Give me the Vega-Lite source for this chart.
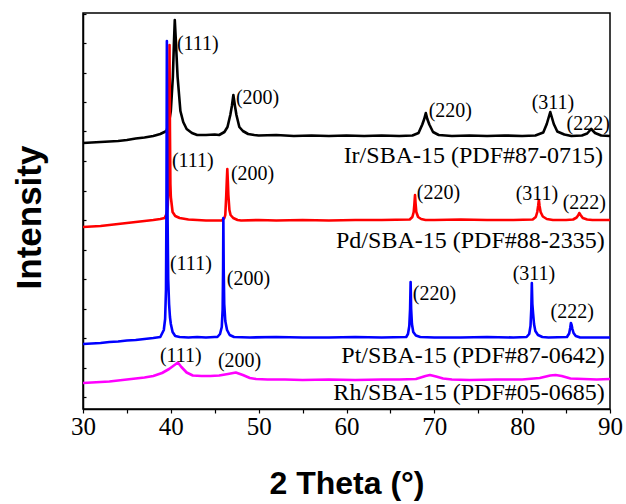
{
  "$schema": "https://vega.github.io/schema/vega-lite/v6.json",
  "width": 527,
  "height": 396,
  "autosize": {"type": "none"},
  "padding": {"left": 83, "top": 13, "right": 16, "bottom": 95},
  "background": "white",
  "config": {
    "view": {"stroke": "black", "strokeWidth": 1.5},
    "axis": {"grid": false, "domainColor": "black", "domainWidth": 1.5, "tickColor": "black", "tickWidth": 1.2}
  },
  "datasets": {
    "lines": [
      {"sample": "Ir", "theta": 30, "intensity": 266}, {"sample": "Ir", "theta": 31, "intensity": 266.5}, {"sample": "Ir", "theta": 32, "intensity": 267}, {"sample": "Ir", "theta": 33, "intensity": 267.5}, {"sample": "Ir", "theta": 34, "intensity": 268}, {"sample": "Ir", "theta": 35, "intensity": 269}, {"sample": "Ir", "theta": 36, "intensity": 270.5}, {"sample": "Ir", "theta": 37, "intensity": 271.5}, {"sample": "Ir", "theta": 38, "intensity": 273}, {"sample": "Ir", "theta": 38.8, "intensity": 275}, {"sample": "Ir", "theta": 39.5, "intensity": 278}, {"sample": "Ir", "theta": 39.8, "intensity": 287}, {"sample": "Ir", "theta": 40.0, "intensity": 298}, {"sample": "Ir", "theta": 40.23, "intensity": 332}, {"sample": "Ir", "theta": 40.35, "intensity": 365}, {"sample": "Ir", "theta": 40.45, "intensity": 389}, {"sample": "Ir", "theta": 40.55, "intensity": 372}, {"sample": "Ir", "theta": 40.77, "intensity": 332}, {"sample": "Ir", "theta": 41.09, "intensity": 298}, {"sample": "Ir", "theta": 41.41, "intensity": 287}, {"sample": "Ir", "theta": 41.8, "intensity": 280}, {"sample": "Ir", "theta": 42.4, "intensity": 276}, {"sample": "Ir", "theta": 43, "intensity": 274}, {"sample": "Ir", "theta": 44, "intensity": 274}, {"sample": "Ir", "theta": 45, "intensity": 274.5}, {"sample": "Ir", "theta": 45.5, "intensity": 274}, {"sample": "Ir", "theta": 46.1, "intensity": 277}, {"sample": "Ir", "theta": 46.45, "intensity": 282}, {"sample": "Ir", "theta": 46.77, "intensity": 294}, {"sample": "Ir", "theta": 46.95, "intensity": 303}, {"sample": "Ir", "theta": 47.12, "intensity": 314}, {"sample": "Ir", "theta": 47.3, "intensity": 303}, {"sample": "Ir", "theta": 47.47, "intensity": 294}, {"sample": "Ir", "theta": 47.8, "intensity": 282}, {"sample": "Ir", "theta": 48.2, "intensity": 278}, {"sample": "Ir", "theta": 48.8, "intensity": 275}, {"sample": "Ir", "theta": 49.5, "intensity": 274}, {"sample": "Ir", "theta": 50, "intensity": 273.5}, {"sample": "Ir", "theta": 52, "intensity": 274}, {"sample": "Ir", "theta": 54, "intensity": 273}, {"sample": "Ir", "theta": 56, "intensity": 273.5}, {"sample": "Ir", "theta": 58, "intensity": 273}, {"sample": "Ir", "theta": 60, "intensity": 273.5}, {"sample": "Ir", "theta": 62, "intensity": 273}, {"sample": "Ir", "theta": 64, "intensity": 273.5}, {"sample": "Ir", "theta": 66, "intensity": 273}, {"sample": "Ir", "theta": 67.5, "intensity": 273.5}, {"sample": "Ir", "theta": 68.2, "intensity": 276}, {"sample": "Ir", "theta": 68.63, "intensity": 284.5}, {"sample": "Ir", "theta": 68.85, "intensity": 290}, {"sample": "Ir", "theta": 69.03, "intensity": 296}, {"sample": "Ir", "theta": 69.2, "intensity": 290}, {"sample": "Ir", "theta": 69.43, "intensity": 284.5}, {"sample": "Ir", "theta": 69.85, "intensity": 277}, {"sample": "Ir", "theta": 70.5, "intensity": 274}, {"sample": "Ir", "theta": 72, "intensity": 273}, {"sample": "Ir", "theta": 74, "intensity": 273.5}, {"sample": "Ir", "theta": 76, "intensity": 273}, {"sample": "Ir", "theta": 78, "intensity": 273.5}, {"sample": "Ir", "theta": 80, "intensity": 273}, {"sample": "Ir", "theta": 81.5, "intensity": 273.5}, {"sample": "Ir", "theta": 82.4, "intensity": 276.5}, {"sample": "Ir", "theta": 82.8, "intensity": 285}, {"sample": "Ir", "theta": 83.0, "intensity": 291}, {"sample": "Ir", "theta": 83.2, "intensity": 297}, {"sample": "Ir", "theta": 83.4, "intensity": 291}, {"sample": "Ir", "theta": 83.6, "intensity": 285}, {"sample": "Ir", "theta": 84.0, "intensity": 277.5}, {"sample": "Ir", "theta": 84.8, "intensity": 274.5}, {"sample": "Ir", "theta": 85.6, "intensity": 273}, {"sample": "Ir", "theta": 86.8, "intensity": 273.5}, {"sample": "Ir", "theta": 87.4, "intensity": 275.5}, {"sample": "Ir", "theta": 87.86, "intensity": 280}, {"sample": "Ir", "theta": 88.3, "intensity": 276}, {"sample": "Ir", "theta": 89, "intensity": 273.5}, {"sample": "Ir", "theta": 90, "intensity": 273},

      {"sample": "Pd", "theta": 30, "intensity": 182}, {"sample": "Pd", "theta": 31, "intensity": 182.5}, {"sample": "Pd", "theta": 32, "intensity": 183}, {"sample": "Pd", "theta": 33, "intensity": 184}, {"sample": "Pd", "theta": 34, "intensity": 185}, {"sample": "Pd", "theta": 35, "intensity": 186}, {"sample": "Pd", "theta": 36, "intensity": 187}, {"sample": "Pd", "theta": 37, "intensity": 188}, {"sample": "Pd", "theta": 38, "intensity": 189}, {"sample": "Pd", "theta": 38.8, "intensity": 190}, {"sample": "Pd", "theta": 39.3, "intensity": 191}, {"sample": "Pd", "theta": 39.55, "intensity": 196}, {"sample": "Pd", "theta": 39.65, "intensity": 203}, {"sample": "Pd", "theta": 39.75, "intensity": 225}, {"sample": "Pd", "theta": 39.8, "intensity": 277}, {"sample": "Pd", "theta": 39.85, "intensity": 364}, {"sample": "Pd", "theta": 39.9, "intensity": 277}, {"sample": "Pd", "theta": 39.95, "intensity": 225}, {"sample": "Pd", "theta": 40.0, "intensity": 212}, {"sample": "Pd", "theta": 40.2, "intensity": 197}, {"sample": "Pd", "theta": 40.5, "intensity": 193}, {"sample": "Pd", "theta": 41, "intensity": 191}, {"sample": "Pd", "theta": 42, "intensity": 189.5}, {"sample": "Pd", "theta": 43, "intensity": 189}, {"sample": "Pd", "theta": 44, "intensity": 188.5}, {"sample": "Pd", "theta": 45, "intensity": 188.5}, {"sample": "Pd", "theta": 45.8, "intensity": 188.5}, {"sample": "Pd", "theta": 46.1, "intensity": 191}, {"sample": "Pd", "theta": 46.2, "intensity": 194}, {"sample": "Pd", "theta": 46.31, "intensity": 214}, {"sample": "Pd", "theta": 46.37, "intensity": 228}, {"sample": "Pd", "theta": 46.43, "intensity": 240}, {"sample": "Pd", "theta": 46.49, "intensity": 228}, {"sample": "Pd", "theta": 46.55, "intensity": 214}, {"sample": "Pd", "theta": 46.67, "intensity": 199}, {"sample": "Pd", "theta": 46.8, "intensity": 194}, {"sample": "Pd", "theta": 47.1, "intensity": 191}, {"sample": "Pd", "theta": 47.6, "intensity": 189}, {"sample": "Pd", "theta": 48, "intensity": 188.5}, {"sample": "Pd", "theta": 50, "intensity": 189}, {"sample": "Pd", "theta": 52, "intensity": 188.5}, {"sample": "Pd", "theta": 55, "intensity": 189}, {"sample": "Pd", "theta": 58, "intensity": 188.5}, {"sample": "Pd", "theta": 61, "intensity": 189}, {"sample": "Pd", "theta": 64, "intensity": 189}, {"sample": "Pd", "theta": 67.2, "intensity": 189.5}, {"sample": "Pd", "theta": 67.5, "intensity": 192}, {"sample": "Pd", "theta": 67.65, "intensity": 197}, {"sample": "Pd", "theta": 67.73, "intensity": 205}, {"sample": "Pd", "theta": 67.8, "intensity": 214}, {"sample": "Pd", "theta": 67.87, "intensity": 205}, {"sample": "Pd", "theta": 67.95, "intensity": 197}, {"sample": "Pd", "theta": 68.15, "intensity": 192}, {"sample": "Pd", "theta": 68.5, "intensity": 190}, {"sample": "Pd", "theta": 69, "intensity": 189}, {"sample": "Pd", "theta": 70, "intensity": 189}, {"sample": "Pd", "theta": 73, "intensity": 189.5}, {"sample": "Pd", "theta": 76, "intensity": 189}, {"sample": "Pd", "theta": 79, "intensity": 189}, {"sample": "Pd", "theta": 81.2, "intensity": 189.5}, {"sample": "Pd", "theta": 81.55, "intensity": 192}, {"sample": "Pd", "theta": 81.72, "intensity": 197}, {"sample": "Pd", "theta": 81.82, "intensity": 203}, {"sample": "Pd", "theta": 81.9, "intensity": 209}, {"sample": "Pd", "theta": 81.98, "intensity": 203}, {"sample": "Pd", "theta": 82.1, "intensity": 197}, {"sample": "Pd", "theta": 82.35, "intensity": 192.5}, {"sample": "Pd", "theta": 82.8, "intensity": 190}, {"sample": "Pd", "theta": 83.5, "intensity": 189}, {"sample": "Pd", "theta": 85, "intensity": 189}, {"sample": "Pd", "theta": 85.8, "intensity": 189.5}, {"sample": "Pd", "theta": 86.2, "intensity": 191.5}, {"sample": "Pd", "theta": 86.4, "intensity": 194}, {"sample": "Pd", "theta": 86.5, "intensity": 196}, {"sample": "Pd", "theta": 86.65, "intensity": 194}, {"sample": "Pd", "theta": 86.9, "intensity": 191}, {"sample": "Pd", "theta": 87.4, "intensity": 189.5}, {"sample": "Pd", "theta": 88, "intensity": 189}, {"sample": "Pd", "theta": 90, "intensity": 189},

      {"sample": "Pt", "theta": 30, "intensity": 65}, {"sample": "Pt", "theta": 31, "intensity": 65.5}, {"sample": "Pt", "theta": 32, "intensity": 66}, {"sample": "Pt", "theta": 33, "intensity": 67}, {"sample": "Pt", "theta": 34, "intensity": 67.5}, {"sample": "Pt", "theta": 35, "intensity": 68.5}, {"sample": "Pt", "theta": 36, "intensity": 69}, {"sample": "Pt", "theta": 37, "intensity": 70}, {"sample": "Pt", "theta": 38, "intensity": 71}, {"sample": "Pt", "theta": 38.8, "intensity": 72}, {"sample": "Pt", "theta": 39.2, "intensity": 79}, {"sample": "Pt", "theta": 39.35, "intensity": 90}, {"sample": "Pt", "theta": 39.45, "intensity": 120}, {"sample": "Pt", "theta": 39.5, "intensity": 200}, {"sample": "Pt", "theta": 39.55, "intensity": 368}, {"sample": "Pt", "theta": 39.62, "intensity": 200}, {"sample": "Pt", "theta": 39.7, "intensity": 130}, {"sample": "Pt", "theta": 39.8, "intensity": 105}, {"sample": "Pt", "theta": 39.9, "intensity": 92}, {"sample": "Pt", "theta": 40.0, "intensity": 85}, {"sample": "Pt", "theta": 40.2, "intensity": 77}, {"sample": "Pt", "theta": 40.5, "intensity": 73}, {"sample": "Pt", "theta": 41, "intensity": 72}, {"sample": "Pt", "theta": 42, "intensity": 71.5}, {"sample": "Pt", "theta": 43, "intensity": 72}, {"sample": "Pt", "theta": 44, "intensity": 71.5}, {"sample": "Pt", "theta": 45, "intensity": 72}, {"sample": "Pt", "theta": 45.3, "intensity": 72}, {"sample": "Pt", "theta": 45.6, "intensity": 75}, {"sample": "Pt", "theta": 45.8, "intensity": 82}, {"sample": "Pt", "theta": 45.9, "intensity": 100}, {"sample": "Pt", "theta": 45.95, "intensity": 140}, {"sample": "Pt", "theta": 45.98, "intensity": 191}, {"sample": "Pt", "theta": 46.02, "intensity": 140}, {"sample": "Pt", "theta": 46.08, "intensity": 105}, {"sample": "Pt", "theta": 46.2, "intensity": 88}, {"sample": "Pt", "theta": 46.4, "intensity": 79}, {"sample": "Pt", "theta": 46.7, "intensity": 74}, {"sample": "Pt", "theta": 47.2, "intensity": 72}, {"sample": "Pt", "theta": 49, "intensity": 71.5}, {"sample": "Pt", "theta": 52, "intensity": 72}, {"sample": "Pt", "theta": 55, "intensity": 71.5}, {"sample": "Pt", "theta": 58, "intensity": 71.5}, {"sample": "Pt", "theta": 61, "intensity": 72}, {"sample": "Pt", "theta": 64, "intensity": 71.5}, {"sample": "Pt", "theta": 66.8, "intensity": 72}, {"sample": "Pt", "theta": 67.0, "intensity": 75}, {"sample": "Pt", "theta": 67.15, "intensity": 83}, {"sample": "Pt", "theta": 67.24, "intensity": 100}, {"sample": "Pt", "theta": 67.3, "intensity": 127}, {"sample": "Pt", "theta": 67.36, "intensity": 100}, {"sample": "Pt", "theta": 67.45, "intensity": 85}, {"sample": "Pt", "theta": 67.6, "intensity": 77}, {"sample": "Pt", "theta": 67.9, "intensity": 73.5}, {"sample": "Pt", "theta": 68.4, "intensity": 72}, {"sample": "Pt", "theta": 70, "intensity": 71.5}, {"sample": "Pt", "theta": 73, "intensity": 71.5}, {"sample": "Pt", "theta": 76, "intensity": 72}, {"sample": "Pt", "theta": 79, "intensity": 71.5}, {"sample": "Pt", "theta": 80.5, "intensity": 72}, {"sample": "Pt", "theta": 80.8, "intensity": 75}, {"sample": "Pt", "theta": 80.95, "intensity": 83}, {"sample": "Pt", "theta": 81.04, "intensity": 100}, {"sample": "Pt", "theta": 81.1, "intensity": 126}, {"sample": "Pt", "theta": 81.16, "intensity": 105}, {"sample": "Pt", "theta": 81.25, "intensity": 95}, {"sample": "Pt", "theta": 81.35, "intensity": 85}, {"sample": "Pt", "theta": 81.5, "intensity": 78}, {"sample": "Pt", "theta": 81.8, "intensity": 74}, {"sample": "Pt", "theta": 82.3, "intensity": 72}, {"sample": "Pt", "theta": 83, "intensity": 71.5}, {"sample": "Pt", "theta": 85.1, "intensity": 72}, {"sample": "Pt", "theta": 85.35, "intensity": 75.5}, {"sample": "Pt", "theta": 85.47, "intensity": 81}, {"sample": "Pt", "theta": 85.55, "intensity": 86}, {"sample": "Pt", "theta": 85.63, "intensity": 84}, {"sample": "Pt", "theta": 85.72, "intensity": 80}, {"sample": "Pt", "theta": 85.85, "intensity": 76}, {"sample": "Pt", "theta": 86.1, "intensity": 73}, {"sample": "Pt", "theta": 86.6, "intensity": 71.5}, {"sample": "Pt", "theta": 88, "intensity": 71.5}, {"sample": "Pt", "theta": 90, "intensity": 71.5},

      {"sample": "Rh", "theta": 30, "intensity": 26}, {"sample": "Rh", "theta": 31, "intensity": 26.5}, {"sample": "Rh", "theta": 32, "intensity": 27}, {"sample": "Rh", "theta": 33, "intensity": 27.5}, {"sample": "Rh", "theta": 34, "intensity": 28.5}, {"sample": "Rh", "theta": 35, "intensity": 29.5}, {"sample": "Rh", "theta": 36, "intensity": 30.5}, {"sample": "Rh", "theta": 37, "intensity": 31.5}, {"sample": "Rh", "theta": 38, "intensity": 33}, {"sample": "Rh", "theta": 39, "intensity": 36}, {"sample": "Rh", "theta": 39.8, "intensity": 40}, {"sample": "Rh", "theta": 40.5, "intensity": 44.5}, {"sample": "Rh", "theta": 40.8, "intensity": 46.5}, {"sample": "Rh", "theta": 41.2, "intensity": 42}, {"sample": "Rh", "theta": 41.8, "intensity": 36.5}, {"sample": "Rh", "theta": 42.5, "intensity": 33.5}, {"sample": "Rh", "theta": 43.5, "intensity": 33}, {"sample": "Rh", "theta": 44.5, "intensity": 33}, {"sample": "Rh", "theta": 45.5, "intensity": 33.5}, {"sample": "Rh", "theta": 46.5, "intensity": 35}, {"sample": "Rh", "theta": 47.4, "intensity": 36.5}, {"sample": "Rh", "theta": 48.2, "intensity": 34}, {"sample": "Rh", "theta": 49, "intensity": 31}, {"sample": "Rh", "theta": 49.7, "intensity": 30}, {"sample": "Rh", "theta": 51, "intensity": 29.5}, {"sample": "Rh", "theta": 53, "intensity": 29.5}, {"sample": "Rh", "theta": 55, "intensity": 29}, {"sample": "Rh", "theta": 58, "intensity": 29.5}, {"sample": "Rh", "theta": 61, "intensity": 29}, {"sample": "Rh", "theta": 64, "intensity": 29.5}, {"sample": "Rh", "theta": 66, "intensity": 29.5}, {"sample": "Rh", "theta": 67.9, "intensity": 30}, {"sample": "Rh", "theta": 69, "intensity": 33}, {"sample": "Rh", "theta": 69.5, "intensity": 34}, {"sample": "Rh", "theta": 70.2, "intensity": 32.5}, {"sample": "Rh", "theta": 71, "intensity": 30.5}, {"sample": "Rh", "theta": 72, "intensity": 29.5}, {"sample": "Rh", "theta": 74, "intensity": 29}, {"sample": "Rh", "theta": 77, "intensity": 29.5}, {"sample": "Rh", "theta": 80, "intensity": 29.5}, {"sample": "Rh", "theta": 82, "intensity": 31}, {"sample": "Rh", "theta": 83.2, "intensity": 33.5}, {"sample": "Rh", "theta": 83.8, "intensity": 34}, {"sample": "Rh", "theta": 84.5, "intensity": 33}, {"sample": "Rh", "theta": 85.5, "intensity": 30.5}, {"sample": "Rh", "theta": 87, "intensity": 30}, {"sample": "Rh", "theta": 88.5, "intensity": 29.5}, {"sample": "Rh", "theta": 90, "intensity": 30}
    ],
    "peaks": [
      {"label": "(111)", "theta": 40.69, "intensity": 359}, {"label": "(200)", "theta": 47.41, "intensity": 305}, {"label": "(220)", "theta": 69.36, "intensity": 292}, {"label": "(311)", "theta": 81.08, "intensity": 300}, {"label": "(222)", "theta": 85.06, "intensity": 279},
      {"label": "(111)", "theta": 40.12, "intensity": 242}, {"label": "(200)", "theta": 46.84, "intensity": 229}, {"label": "(220)", "theta": 68.0, "intensity": 210}, {"label": "(311)", "theta": 79.26, "intensity": 209}, {"label": "(222)", "theta": 84.61, "intensity": 200},
      {"label": "(111)", "theta": 39.9, "intensity": 139}, {"label": "(200)", "theta": 46.38, "intensity": 124}, {"label": "(220)", "theta": 67.54, "intensity": 109}, {"label": "(311)", "theta": 78.92, "intensity": 129}, {"label": "(222)", "theta": 83.24, "intensity": 91},
      {"label": "(111)", "theta": 38.76, "intensity": 47}, {"label": "(200)", "theta": 45.36, "intensity": 42}
    ],
    "names": [
      {"label": "Ir/SBA-15 (PDF#87-0715)", "theta": 89.2, "intensity": 246},
      {"label": "Pd/SBA-15 (PDF#88-2335)", "theta": 89.4, "intensity": 161},
      {"label": "Pt/SBA-15 (PDF#87-0642)", "theta": 89.4, "intensity": 46},
      {"label": "Rh/SBA-15 (PDF#05-0685)", "theta": 89.4, "intensity": 9}
    ]
  },
  "encoding": {
    "x": {
      "field": "theta", "type": "quantitative",
      "scale": {"domain": [30, 90], "nice": false, "zero": false},
      "axis": {
        "values": [30, 35, 40, 45, 50, 55, 60, 65, 70, 75, 80, 85, 90],
        "labelExpr": "datum.value % 10 === 0 ? datum.label : ''",
        "tickSize": 4, "labelPadding": 1, "labelFont": "Liberation Serif", "labelFontSize": 25, "labelColor": "black",
        "labelOverlap": false, "labelFlush": false, "labelBound": false,
        "title": "2 Theta (°)", "titleFont": "Liberation Sans", "titleFontSize": 32, "titleFontWeight": "bold", "titleColor": "black",
        "titleX": 263.5, "titleY": 84, "titleAlign": "center", "titleBaseline": "alphabetic"
      }
    },
    "y": {
      "field": "intensity", "type": "quantitative",
      "scale": {"domain": [0, 396], "nice": false, "zero": false},
      "axis": {
        "values": [12, 41.5, 71, 100.5, 130, 159.5, 189, 218.5, 248, 277.5, 307, 336.5, 366, 395.5],
        "labels": false, "tickSize": -3,
        "title": "Intensity", "titleFont": "Liberation Sans", "titleFontSize": 35, "titleFontWeight": "bold", "titleColor": "black",
        "titleAngle": 270, "titleX": -43, "titleY": 204, "titleAlign": "center", "titleBaseline": "alphabetic"
      }
    }
  },
  "layer": [
    {
      "data": {"name": "lines"},
      "mark": {"type": "line", "strokeWidth": 2.6, "strokeJoin": "round"},
      "encoding": {
        "color": {"field": "sample", "type": "nominal", "scale": {"domain": ["Ir", "Pd", "Pt", "Rh"], "range": ["#000000", "#ff0000", "#0000ff", "#ff00ff"]}, "legend": null}
      }
    },
    {
      "data": {"name": "peaks"},
      "mark": {"type": "text", "font": "Liberation Serif", "fontSize": 20, "align": "left", "baseline": "alphabetic", "color": "black"},
      "encoding": {"text": {"field": "label"}}
    },
    {
      "data": {"name": "names"},
      "mark": {"type": "text", "font": "Liberation Serif", "fontSize": 24, "align": "right", "baseline": "alphabetic", "color": "black"},
      "encoding": {"text": {"field": "label"}}
    }
  ]
}
